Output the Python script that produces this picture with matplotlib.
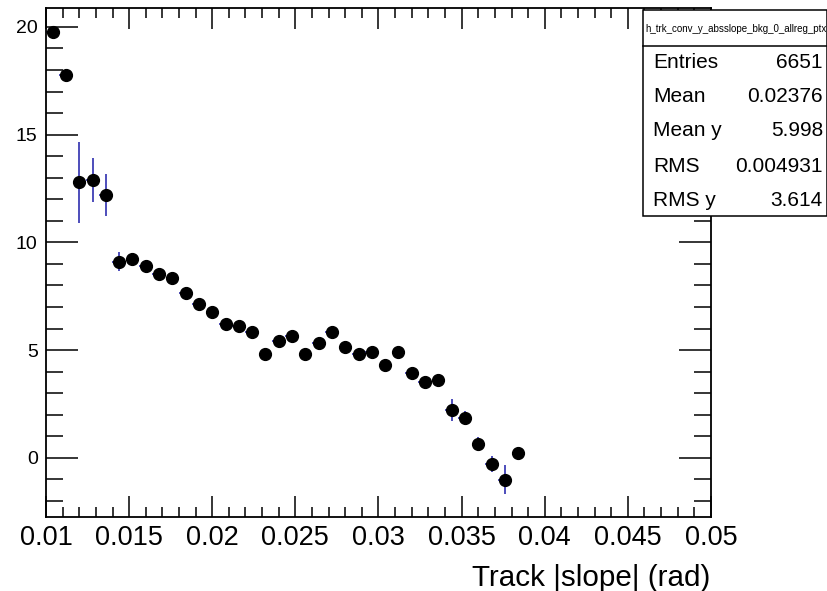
import matplotlib
matplotlib.use("Agg")
import matplotlib.pyplot as plt
from matplotlib.ticker import MultipleLocator
from matplotlib.patches import Rectangle
from matplotlib.lines import Line2D
import numpy as np

plt.rcParams['font.family'] = ['Liberation Sans', 'DejaVu Sans']

# bin layout: 50 bins from 0.01 to 0.05, first 36 filled
bin_lo = 0.01
bin_w = 0.0008
n_filled = 36

y_vals = [19.75, 17.77, 12.78, 12.90, 12.20, 9.11, 9.23, 8.88, 8.55, 8.35,
          7.66, 7.15, 6.77, 6.20, 6.14, 5.83, 4.82, 5.40, 5.66, 4.83,
          5.34, 5.85, 5.15, 4.83, 4.89, 4.32, 4.89, 3.93, 3.50, 3.62,
          2.21, 1.86, 0.65, -0.29, -1.02, 0.22]
y_errs = [0.12, 0.12, 1.90, 1.03, 0.97, 0.46, 0.22, 0.15, 0.15, 0.15,
          0.15, 0.15, 0.15, 0.15, 0.15, 0.15, 0.15, 0.15, 0.15, 0.15,
          0.18, 0.15, 0.18, 0.15, 0.15, 0.15, 0.15, 0.15, 0.15, 0.22,
          0.50, 0.30, 0.30, 0.35, 0.67, 0.15]

x_tick_labels = ["0.01", "0.015", "0.02", "0.025", "0.03", "0.035",
                 "0.04", "0.045", "0.05"]

stats_title = "h_trk_conv_y_absslope_bkg_0_allreg_ptx"
stats_labels = ["Entries", "Mean", "Mean y", "RMS", "RMS y"]
stats_values = ["6651", "0.02376", "5.998", "0.004931", "3.614"]

x_label = "Track |slope| (rad)"

W, H = 828, 591
fig = plt.figure(figsize=(W / 100, H / 100), dpi=100)
ax = fig.add_axes([46 / W, (H - 517) / H, (711 - 46) / W, (517 - 8) / H])

x_centers = bin_lo + bin_w * (np.arange(n_filled) + 0.5)
ax.errorbar(x_centers, y_vals, yerr=y_errs, xerr=bin_w / 2, fmt='none',
            ecolor='#1c1ca8', elinewidth=1.1, capsize=0, zorder=2)
ax.plot(x_centers, y_vals, 'o', color='black', markersize=8.5, zorder=3)

ax.set_xlim(0.01, 0.05)
ax.set_ylim(-2.75, 20.88)

ax.xaxis.set_minor_locator(MultipleLocator(0.001))
ax.yaxis.set_major_locator(MultipleLocator(5))
ax.yaxis.set_minor_locator(MultipleLocator(1))
ax.set_xticks(np.linspace(0.01, 0.05, len(x_tick_labels)))
ax.set_xticklabels(x_tick_labels)

ax.tick_params(axis='x', which='major', direction='in', length=15, width=1.1,
               top=True, labelsize=19.5, pad=6)
ax.tick_params(axis='x', which='minor', direction='in', length=7.5, width=1.1, top=True)
ax.tick_params(axis='y', which='major', direction='in', length=23, width=1.1,
               right=True, labelsize=14, pad=6)
ax.tick_params(axis='y', which='minor', direction='in', length=12, width=1.1, right=True)
for s in ax.spines.values():
    s.set_linewidth(1.3)

fig.text(710 / W, 1 - 586 / H, x_label, ha='right', va='baseline', fontsize=21.3)

# stats box
bx0, bx1, by0, by1, bdiv = 643, 827, 10, 216, 46
fig.patches.append(Rectangle((bx0 / W, 1 - by1 / H), (bx1 - bx0) / W, (by1 - by0) / H,
                             transform=fig.transFigure, facecolor='white',
                             edgecolor='black', linewidth=1.1, zorder=10))
fig.lines.append(Line2D([bx0 / W, bx1 / W], [1 - bdiv / H, 1 - bdiv / H],
                        transform=fig.transFigure, color='black', linewidth=1.1, zorder=11))
fig.text((bx0 + bx1) / 2 / W + 1 / W, 1 - 29 / H, stats_title, ha='center', va='center',
         fontsize=7.0, zorder=12)
row_y = [63, 97, 131, 166, 200]
for lab, val, ry in zip(stats_labels, stats_values, row_y):
    fig.text(653 / W, 1 - ry / H, lab, ha='left', va='center', fontsize=15, zorder=12)
    fig.text(823 / W, 1 - ry / H, val, ha='right', va='center', fontsize=15, zorder=12)

fig.savefig("out.png", dpi=100)
